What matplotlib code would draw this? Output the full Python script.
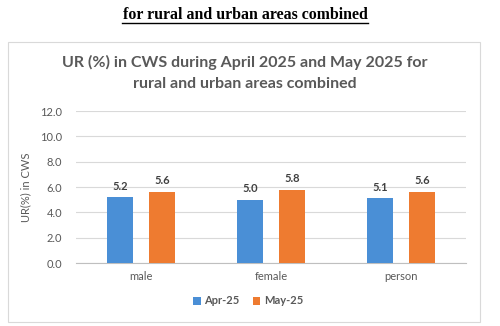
import matplotlib.pyplot as plt
import numpy as np
from matplotlib.patches import Rectangle
from matplotlib.font_manager import FontProperties

categories = ["male", "female", "person"]
apr_25 = [5.2, 5.0, 5.1]
may_25 = [5.6, 5.8, 5.6]
series_names = ["Apr-25", "May-25"]
yticks = [0, 2, 4, 6, 8, 10, 12]

plt.rcParams['font.family'] = ['Lato', 'DejaVu Sans']

fig = plt.figure(figsize=(5.0, 3.26), dpi=100)

# chart frame
fig.patches.append(Rectangle((8 / 500, 1 - 322 / 326), 472 / 500, 280 / 326,
                             transform=fig.transFigure, fill=False,
                             edgecolor="#D9D9D9", linewidth=0.8))

# header above the chart
fig.text(0.49, 1 - 15 / 326, "for rural and urban areas combined",
         family="Liberation Serif", weight="bold", size=11.4, ha="center", va="center")
fig.add_artist(plt.Line2D([122 / 500, 368 / 500], [1 - 23 / 326] * 2, color="black", lw=1))

fig.text(0.489, 1 - 62 / 326, "UR (%) in CWS during April 2025 and May 2025 for",
         size=11.5, weight="bold", color="#595959", ha="center", va="center")
fig.text(0.489, 1 - 84 / 326, "rural and urban areas combined",
         size=11.5, weight="bold", color="#595959", ha="center", va="center")

ax = fig.add_axes([0.152, 0.193, 0.78, 0.4663])
x = np.arange(len(categories))
w = 0.2
off = 0.163
b1 = ax.bar(x - off, apr_25, w, color="#4A8FD6", label=series_names[0], zorder=3)
b2 = ax.bar(x + off, may_25, w, color="#EE7B30", label=series_names[1], zorder=3)

for bars, vals in ((b1, apr_25), (b2, may_25)):
    for bar, v in zip(bars, vals):
        ax.text(bar.get_x() + bar.get_width() / 2, v + 0.45, f"{v:.1f}",
                ha="center", va="bottom", size=8, weight="bold", color="#404040")

ax.set_xlim(-0.5, 2.5)
ax.set_ylim(0, 12)
ax.set_yticks(yticks)
ax.set_yticklabels([f"{t:.1f}" for t in yticks])
ax.set_xticks(x)
ax.set_xticklabels(categories)
ax.tick_params(axis="both", length=0, labelsize=8, colors="#595959")
ax.tick_params(axis="y", pad=10)
ax.tick_params(axis="x", pad=6)
ax.yaxis.grid(True, color="#D9D9D9", linewidth=0.8, zorder=0)
for s in ["top", "right", "left"]:
    ax.spines[s].set_visible(False)
ax.spines["bottom"].set_color("#BFBFBF")
ax.set_ylabel("UR(%) in CWS", size=8, color="#595959", labelpad=6)

leg = fig.legend(handles=[b1, b2], labels=series_names, loc="center",
                 bbox_to_anchor=(0.496, 1 - 301 / 326), ncol=2, frameon=False,
                 handlelength=0.7, handleheight=0.7, handletextpad=0.3,
                 columnspacing=1.2,
                 prop=FontProperties(family="Lato", size=8, weight="bold"))
for t in leg.get_texts():
    t.set_color("#595959")

fig.savefig("out.png", dpi=100)
